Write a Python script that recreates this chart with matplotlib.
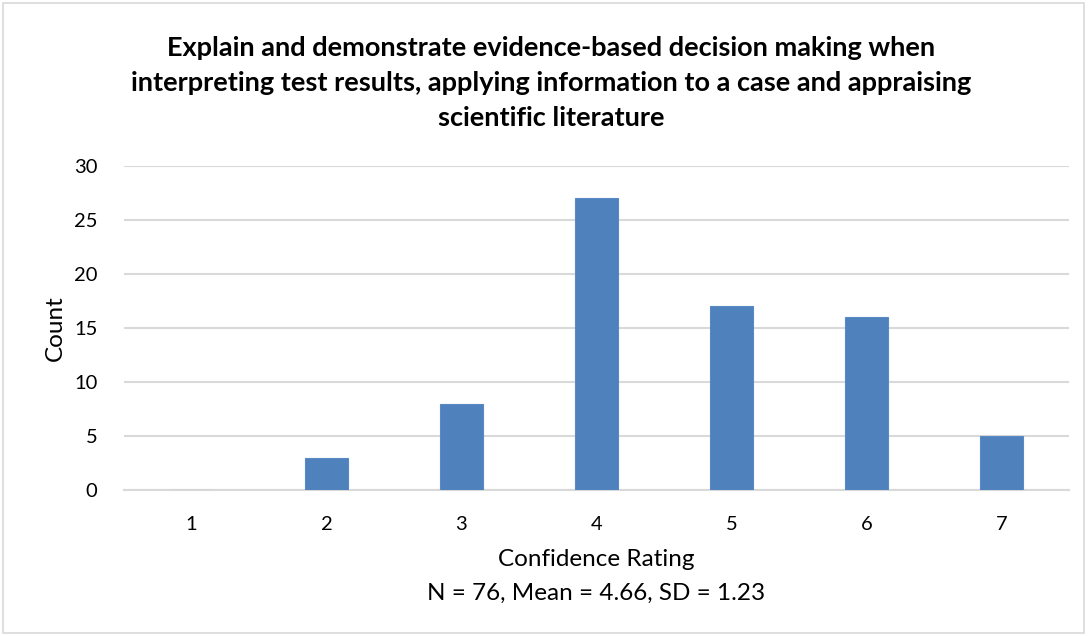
import matplotlib
matplotlib.use("Agg")
import matplotlib.pyplot as plt
from matplotlib.patches import Rectangle

categories = ["1", "2", "3", "4", "5", "6", "7"]
counts = [0, 3, 8, 27, 17, 16, 5]
yticks = [0, 5, 10, 15, 20, 25, 30]
title = ("Explain and demonstrate evidence-based decision making when\n"
         "interpreting test results, applying information to a case and appraising\n"
         "scientific literature")
xlabel = "Confidence Rating"
subnote = "N = 76, Mean = 4.66, SD = 1.23"
ylabel = "Count"

plt.rcParams['font.family'] = ['Lato', 'DejaVu Sans']

fig = plt.figure(figsize=(10.9, 6.36), dpi=100)
ax = fig.add_axes([124/1090, 1-490/636, (1069-124)/1090, (490-166)/636])

x = list(range(len(categories)))
ax.bar(x, counts, width=0.32, color="#4f81bd", edgecolor="#5a8ac6", linewidth=0.8, zorder=3)
ax.set_xlim(-0.5, len(categories) - 0.5)
ax.set_ylim(0, 30)
ax.set_yticks(yticks)
ax.set_xticks(x)
ax.set_xticklabels(categories)
ax.tick_params(axis='both', length=0, labelsize=14.5, colors="#000000")
ax.tick_params(axis='y', pad=19)
ax.tick_params(axis='x', pad=19)
ax.grid(axis='y', color="#d9d9d9", linewidth=1.5, zorder=0)
for s in ["top", "right", "left"]:
    ax.spines[s].set_visible(False)
ax.spines["bottom"].set_color("#d9d9d9")
ax.spines["bottom"].set_linewidth(1.5)

fig.text(55/1090, 1-328/636, ylabel, ha='center', va='center', fontsize=17.5, rotation=90)

fig.text(551/1090, 1-83/636, title, ha='center', va='center', fontsize=19.5,
         fontweight='bold', linespacing=1.53)
fig.text(596/1090, 1-560/636, xlabel, ha='center', va='center', fontsize=17.5)
fig.text(596/1090, 1-593/636, subnote, ha='center', va='center', fontsize=17.5)

fig.patches.append(Rectangle((3/1090, 3/636), 1081/1090, 630/636, transform=fig.transFigure,
                             fill=False, edgecolor="#d9d9d9", linewidth=1.2))

fig.savefig("out.png", dpi=100)
